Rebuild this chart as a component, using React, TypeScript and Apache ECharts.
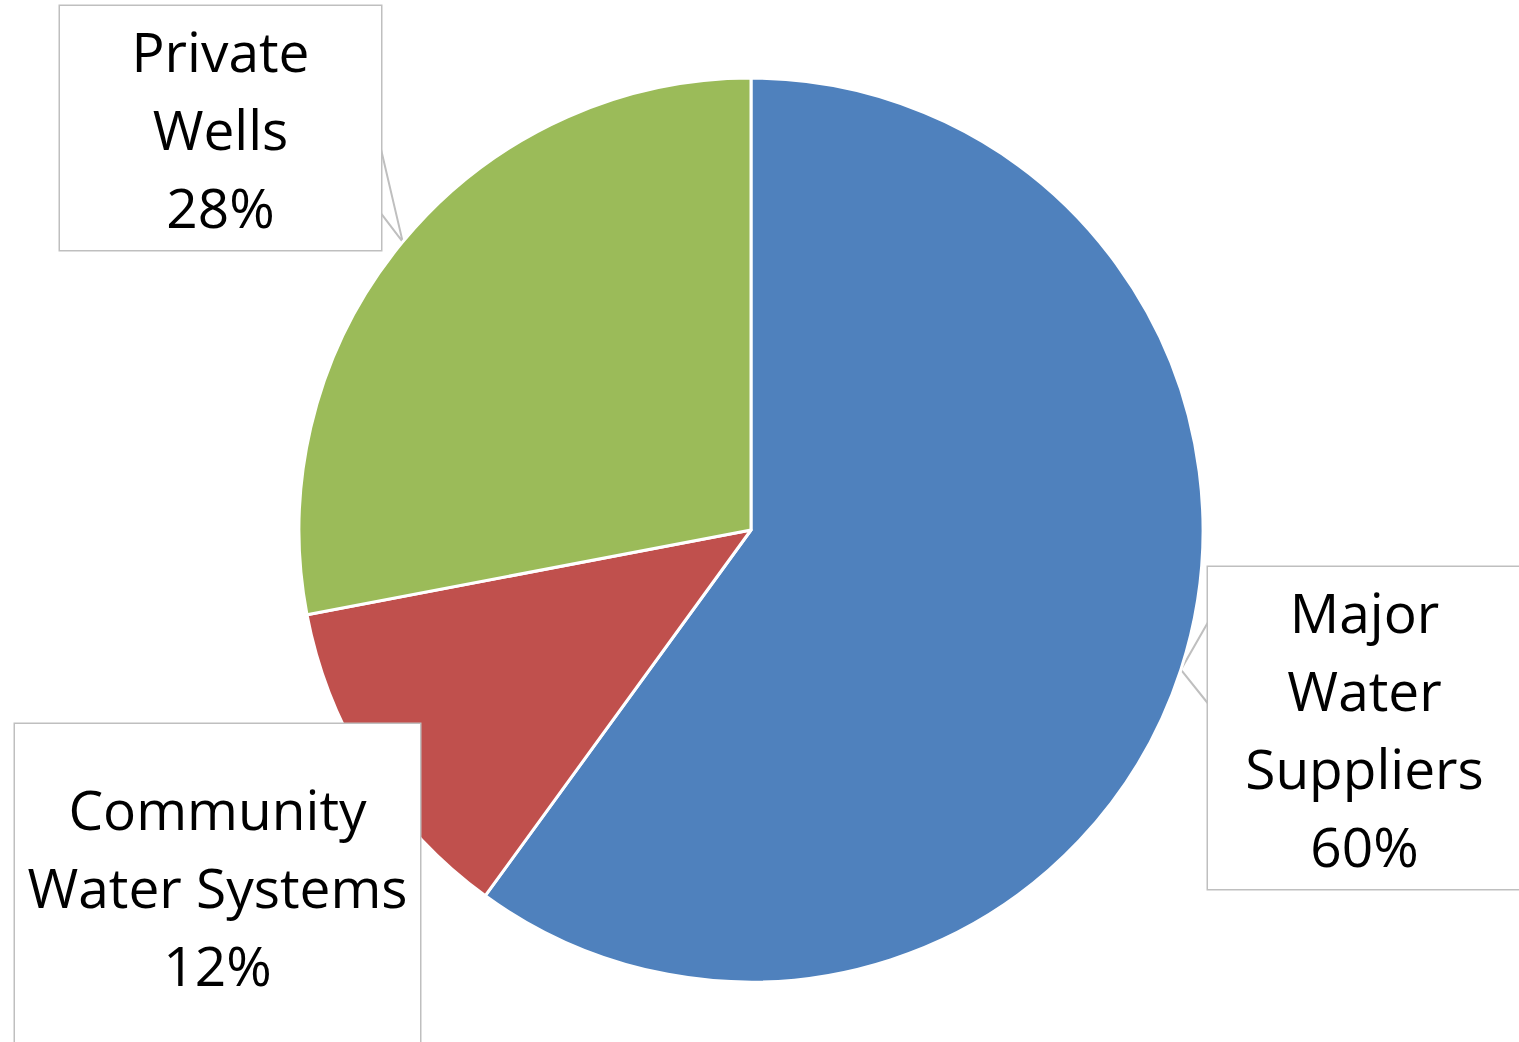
import React, { useEffect, useRef } from "react";
import * as echarts from "echarts";

const categories = ["Major\nWater\nSuppliers", "Community\nWater Systems", "Private\nWells"];
const values = [60, 12, 28];
const colors = ["#4F81BD", "#C0504D", "#9BBB59"];

// label box layout: left, top, width(content), vertical padding, pointer base fractions along near edge
const boxes = [
  { left: 1208, top: 567, width: 313, pad: 5, side: "left", base: [0.17, 0.42], line: true },
  { left: 15, top: 724, width: 405, pad: 45, side: "right", base: [0, 0], line: false },
  { left: 60, top: 6, width: 321, pad: 5, side: "right", base: [0.58, 0.84], line: true },
];

export default function App() {
  const ref = useRef<HTMLDivElement>(null);
  useEffect(() => {
    if (!ref.current) return;
    const chart = echarts.init(ref.current, null, { renderer: "svg" });
    const total = values.reduce((a, b) => a + b, 0);
    chart.setOption({
      animation: false,
      backgroundColor: "#ffffff",
      series: [
        {
          type: "pie",
          center: [751, 530],
          radius: 452,
          startAngle: 90,
          clockwise: true,
          itemStyle: { borderColor: "#ffffff", borderWidth: 3 },
          label: {
            show: true,
            fontFamily: "Open Sans",
            fontSize: 55,
            lineHeight: 78,
            color: "#000000",
            align: "center",
            backgroundColor: "#ffffff",
            borderColor: "#BFBFBF",
            borderWidth: 1.5,
            formatter: (p: any) => `${p.name}\n${Math.round((p.value / total) * 100)}%`,
          },
          labelLine: { show: true, lineStyle: { color: "#BFBFBF", width: 2 } },
          labelLayout: (p: any) => {
            const b = boxes[p.dataIndex];
            const h = p.labelRect.height;
            const tip = p.labelLinePoints ? p.labelLinePoints[0] : [0, 0];
            const ex = b.side === "left" ? b.left : b.left + b.width;
            const pts = b.line
              ? [
                  [ex, b.top + h * b.base[0]],
                  tip,
                  [ex, b.top + h * b.base[1]],
                ]
              : undefined;
            return {
              x: b.left + b.width / 2,
              y: b.top,
              align: "center",
              verticalAlign: "top",
              labelLinePoints: pts,
            };
          },
          data: categories.map((n, i) => ({
            name: n,
            value: values[i],
            itemStyle: { color: colors[i] },
            label: { width: boxes[i].width, padding: [boxes[i].pad, 0] },
            labelLine: { show: boxes[i].line },
          })),
        },
      ],
    });
    return () => chart.dispose();
  }, []);
  return (
    <div
      ref={ref}
      style={{ position: "absolute", left: 0, top: 0, width: 1519, height: 1042 }}
    />
  );
}
